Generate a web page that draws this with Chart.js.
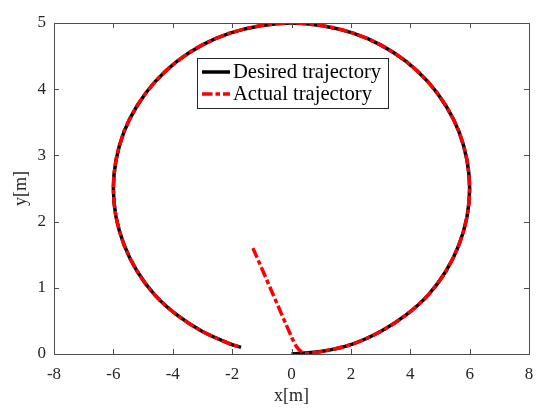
<!DOCTYPE html>
<html>
<head>
<meta charset="utf-8">
<script src="https://cdn.jsdelivr.net/npm/chart.js@4.4.1/dist/chart.umd.min.js"></script>
<style>
  html, body { margin: 0; padding: 0; background: #fff; }
  #wrap { width: 550px; height: 411px; }
</style>
</head>
<body>
<div id="wrap"><canvas id="chart" width="550" height="411"></canvas></div>
<script>
// Desired trajectory (black solid)
const desiredX = [0, 1.04, 2.05, 3.0, 3.86, 4.60, 5.20, 5.64, 5.91, 6.0, 5.91, 5.64, 5.20, 4.60, 3.86, 3.0, 2.05, 1.04, 0,
    -1.04, -2.05, -3.0, -3.86, -4.60, -5.20, -5.64, -5.91, -6.0, -5.91, -5.64, -5.20, -4.60, -3.86, -3.0, -2.05, -1.70];
const desiredY = [0, 0.04, 0.15, 0.34, 0.59, 0.89, 1.25, 1.65, 2.07, 2.5, 2.93, 3.36, 3.75, 4.11, 4.42, 4.67, 4.85, 4.96, 5.0,
    4.96, 4.85, 4.67, 4.42, 4.11, 3.75, 3.36, 2.93, 2.5, 2.07, 1.65, 1.25, 0.89, 0.59, 0.34, 0.15, 0.10];

// Actual trajectory (red dash-dot)
const actualX = [-1.30, -0.65, 0.0, 0.17, 0.34, 0.56, 1.04, 2.05, 3.0, 3.86, 4.60, 5.20, 5.64, 5.91, 6.0, 5.91, 5.64, 5.20,
    4.60, 3.86, 3.0, 2.05, 1.04, 0, -1.04, -2.05, -3.0, -3.86, -4.60, -5.20, -5.64, -5.91, -6.0, -5.91, -5.64, -5.20,
    -4.60, -3.86, -3.0, -2.05, -1.70];
const actualY = [1.60, 0.93, 0.26, 0.11, 0.035, 0.01, 0.04, 0.15, 0.34, 0.59, 0.89, 1.25, 1.65, 2.07, 2.5, 2.93, 3.36, 3.75,
    4.11, 4.42, 4.67, 4.85, 4.96, 5.0, 4.96, 4.85, 4.67, 4.42, 4.11, 3.75, 3.36, 2.93, 2.5, 2.07, 1.65, 1.25,
    0.89, 0.59, 0.34, 0.15, 0.10];

const xTicks = [-8, -6, -4, -2, 0, 2, 4, 6, 8];
const yTicks = [0, 1, 2, 3, 4, 5];
const legendLabels = ['Desired trajectory', 'Actual trajectory'];

const toPoints = (xs, ys) => xs.map((x, i) => ({ x: x, y: ys[i] }));

const FONT = "'Liberation Serif', 'Times New Roman', serif";
const AXIS_COLOR = '#4d4d4d';
const TEXT_COLOR = '#262626';
const RED_DASH = [10.5, 3, 4.5, 3];

Chart.defaults.font.family = FONT;
Chart.defaults.color = TEXT_COLOR;

// Рамка и внутренние риски в стиле MATLAB
const boxPlugin = {
    id: 'boxTicks',
    afterDraw(chart) {
        const { ctx, chartArea: a, scales } = chart;
        ctx.save();
        ctx.strokeStyle = AXIS_COLOR;
        ctx.lineWidth = 1;
        ctx.beginPath();
        xTicks.forEach(v => {
            const px = Math.round(scales.x.getPixelForValue(v)) + 0.5;
            ctx.moveTo(px, a.bottom); ctx.lineTo(px, a.bottom - 5);
            ctx.moveTo(px, a.top); ctx.lineTo(px, a.top + 5);
        });
        yTicks.forEach(v => {
            const py = Math.round(scales.y.getPixelForValue(v)) + 0.5;
            ctx.moveTo(a.left, py); ctx.lineTo(a.left + 5, py);
            ctx.moveTo(a.right, py); ctx.lineTo(a.right - 5, py);
        });
        ctx.stroke();
        ctx.strokeRect(Math.round(a.left) + 0.5, Math.round(a.top) + 0.5,
            Math.round(a.right - a.left), Math.round(a.bottom - a.top));
        ctx.restore();
    }
};

// Легенда внутри области графика
const legendPlugin = {
    id: 'innerLegend',
    afterDraw(chart) {
        const { ctx, chartArea: a } = chart;
        const bx = a.left + 143, by = a.top + 35, bw = 191, bh = 50;
        ctx.save();
        ctx.fillStyle = '#fff';
        ctx.fillRect(bx, by, bw, bh);
        ctx.strokeStyle = TEXT_COLOR;
        ctx.lineWidth = 1;
        ctx.strokeRect(bx + 0.5, by + 0.5, bw, bh);

        const rows = [by + 14, by + 36];
        ctx.lineWidth = 3.5;
        ctx.strokeStyle = '#000';
        ctx.beginPath(); ctx.moveTo(bx + 5, rows[0]); ctx.lineTo(bx + 33, rows[0]); ctx.stroke();
        ctx.strokeStyle = '#ff0000';
        ctx.setLineDash(RED_DASH);
        ctx.beginPath(); ctx.moveTo(bx + 5, rows[1]); ctx.lineTo(bx + 33, rows[1]); ctx.stroke();
        ctx.setLineDash([]);

        ctx.fillStyle = '#000';
        ctx.font = '20.6px ' + FONT;
        ctx.textBaseline = 'middle';
        ctx.textAlign = 'left';
        legendLabels.forEach((t, i) => ctx.fillText(t, bx + 36, rows[i] + 1));
        ctx.restore();
    }
};

const ctx = document.getElementById('chart').getContext('2d');
new Chart(ctx, {
    type: 'scatter',
    data: {
        datasets: [
            {
                label: legendLabels[0],
                data: toPoints(desiredX, desiredY),
                showLine: true,
                borderColor: '#000',
                borderWidth: 3.5,
                pointRadius: 0,
                tension: 0.3,
                order: 1
            },
            {
                label: legendLabels[1],
                data: toPoints(actualX, actualY),
                showLine: true,
                borderColor: '#ff0000',
                borderWidth: 3.5,
                borderDash: RED_DASH,
                pointRadius: 0,
                tension: 0.3,
                order: 0
            }
        ]
    },
    options: {
        responsive: false,
        animation: false,
        devicePixelRatio: 1,
        layout: { padding: { left: 0, right: 21, top: 23, bottom: 0 } },
        plugins: {
            legend: { display: false },
            tooltip: { enabled: false }
        },
        scales: {
            x: {
                type: 'linear',
                min: -8,
                max: 8,
                afterBuildTicks: s => { s.ticks = xTicks.map(v => ({ value: v })); },
                afterFit: s => { s.height = 57; },
                grid: { display: false, drawTicks: false },
                border: { display: false },
                ticks: { padding: 10, font: { size: 17 }, color: TEXT_COLOR, maxRotation: 0 },
                title: { display: true, text: 'x[m]', font: { size: 18 }, color: TEXT_COLOR, padding: { top: 0, bottom: 4 } }
            },
            y: {
                type: 'linear',
                min: 0,
                max: 5,
                afterBuildTicks: s => { s.ticks = yTicks.map(v => ({ value: v })); },
                afterFit: s => { s.width = 54; },
                grid: { display: false, drawTicks: false },
                border: { display: false },
                ticks: { padding: 8, font: { size: 17 }, color: TEXT_COLOR },
                title: { display: true, text: 'y[m]', font: { size: 18 }, color: TEXT_COLOR, padding: { top: 10, bottom: 0 } }
            }
        }
    },
    plugins: [boxPlugin, legendPlugin]
});
</script>
</body>
</html>
